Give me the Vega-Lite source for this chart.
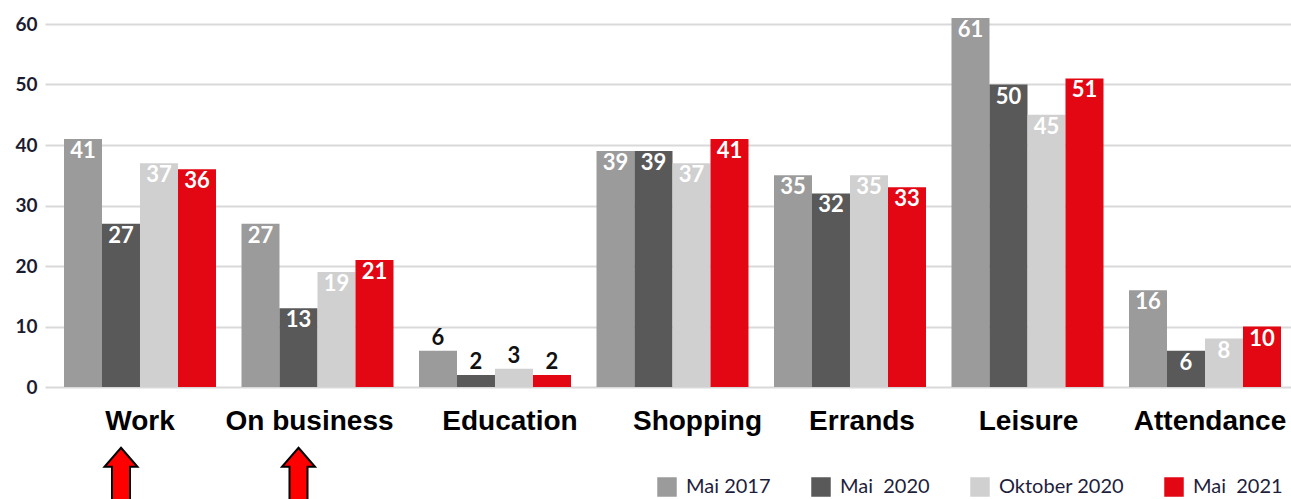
{
  "$schema": "https://vega.github.io/schema/vega-lite/v6.json",
  "width": 1246,
  "height": 363,
  "autosize": {"type": "none"},
  "padding": {"left": 45, "top": 24, "right": 0, "bottom": 112},
  "background": "white",
  "config": {"view": {"stroke": null}},
  "datasets": {
    "trips": [
      {"category": "Work", "period": "Mai 2017", "value": 41},
      {"category": "Work", "period": "Mai 2020", "value": 27},
      {"category": "Work", "period": "Oktober 2020", "value": 37},
      {"category": "Work", "period": "Mai 2021", "value": 36},
      {"category": "On business", "period": "Mai 2017", "value": 27},
      {"category": "On business", "period": "Mai 2020", "value": 13},
      {"category": "On business", "period": "Oktober 2020", "value": 19},
      {"category": "On business", "period": "Mai 2021", "value": 21},
      {"category": "Education", "period": "Mai 2017", "value": 6},
      {"category": "Education", "period": "Mai 2020", "value": 2},
      {"category": "Education", "period": "Oktober 2020", "value": 3},
      {"category": "Education", "period": "Mai 2021", "value": 2},
      {"category": "Shopping", "period": "Mai 2017", "value": 39},
      {"category": "Shopping", "period": "Mai 2020", "value": 39},
      {"category": "Shopping", "period": "Oktober 2020", "value": 37},
      {"category": "Shopping", "period": "Mai 2021", "value": 41},
      {"category": "Errands", "period": "Mai 2017", "value": 35},
      {"category": "Errands", "period": "Mai 2020", "value": 32},
      {"category": "Errands", "period": "Oktober 2020", "value": 35},
      {"category": "Errands", "period": "Mai 2021", "value": 33},
      {"category": "Leisure", "period": "Mai 2017", "value": 61},
      {"category": "Leisure", "period": "Mai 2020", "value": 50},
      {"category": "Leisure", "period": "Oktober 2020", "value": 45},
      {"category": "Leisure", "period": "Mai 2021", "value": 51},
      {"category": "Attendance", "period": "Mai 2017", "value": 16},
      {"category": "Attendance", "period": "Mai 2020", "value": 6},
      {"category": "Attendance", "period": "Oktober 2020", "value": 8},
      {"category": "Attendance", "period": "Mai 2021", "value": 10}
    ],
    "arrows": [
      {"category": "Work", "period": "Mai 2020", "value": -15},
      {"category": "On business", "period": "Mai 2020", "value": -15}
    ]
  },
  "encoding": {
    "x": {
      "field": "category",
      "type": "nominal",
      "sort": ["Work", "On business", "Education", "Shopping", "Errands", "Leisure", "Attendance"],
      "scale": {"paddingInner": 0.1437, "paddingOuter": 0.0817, "align": 0.655},
      "axis": {
        "title": null,
        "domain": false,
        "ticks": false,
        "labelAngle": 0,
        "labelOverlap": false,
        "labelLimit": 0,
        "labelFont": "Liberation Sans",
        "labelFontWeight": "bold",
        "labelFontSize": 28,
        "labelColor": "#000000",
        "labelPadding": 20,
        "labelOffset": {
          "condition": [
            {"test": "datum.value === 'On business'", "value": -8},
            {"test": "datum.value === 'Education'", "value": 15},
            {"test": "datum.value === 'Shopping'", "value": 25},
            {"test": "datum.value === 'Errands'", "value": 12},
            {"test": "datum.value === 'Leisure'", "value": 1},
            {"test": "datum.value === 'Attendance'", "value": 5}
          ],
          "value": 0
        }
      }
    },
    "xOffset": {
      "field": "period",
      "type": "nominal",
      "sort": ["Mai 2017", "Mai 2020", "Oktober 2020", "Mai 2021"],
      "scale": {"paddingInner": 0, "paddingOuter": 0}
    },
    "y": {
      "field": "value",
      "type": "quantitative",
      "scale": {"domain": [0, 60], "nice": false},
      "axis": {
        "title": null,
        "domain": false,
        "ticks": false,
        "values": [0, 10, 20, 30, 40, 50, 60],
        "grid": true,
        "gridColor": "#d9d9d9",
        "gridWidth": 2,
        "labelFont": "Lato",
        "labelFontWeight": "bold",
        "labelFontSize": 19,
        "labelColor": "#1c1c30",
        "labelPadding": 8
      }
    }
  },
  "layer": [
    {
      "data": {"name": "trips"},
      "mark": {"type": "bar"},
      "encoding": {
        "color": {
          "field": "period",
          "type": "nominal",
          "sort": ["Mai 2017", "Mai 2020", "Oktober 2020", "Mai 2021"],
          "scale": {
            "domain": ["Mai 2017", "Mai 2020", "Oktober 2020", "Mai 2021"],
            "range": ["#9b9b9b", "#595959", "#d0d0d0", "#e30613"]
          },
          "legend": {
            "title": null,
            "orient": "none",
            "direction": "horizontal",
            "legendX": 612,
            "legendY": 453,
            "symbolType": "square",
            "symbolSize": 380,
            "symbolStrokeWidth": 0,
            "symbolOpacity": 1,
            "labelFont": "Lato",
            "labelFontSize": 20,
            "labelColor": "#1e1e3c",
            "labelOffset": 9,
            "labelLimit": 0,
            "columnPadding": 40,
            "labelExpr": "replace(datum.label, 'Mai 202', 'Mai\u00a0 202')"
          }
        }
      }
    },
    {
      "data": {"name": "trips"},
      "transform": [{"filter": "datum.category !== 'Education'"}],
      "mark": {"type": "text", "baseline": "top", "dy": 2, "font": "Lato", "fontWeight": "bold", "fontSize": 22, "color": "#ffffff"},
      "encoding": {"text": {"field": "value", "type": "quantitative"}}
    },
    {
      "data": {"name": "trips"},
      "transform": [{"filter": "datum.category === 'Education'"}],
      "mark": {"type": "text", "baseline": "bottom", "dy": -1, "font": "Lato", "fontWeight": "bold", "fontSize": 22, "color": "#111111"},
      "encoding": {"text": {"field": "value", "type": "quantitative"}}
    },
    {
      "data": {"name": "arrows"},
      "mark": {
        "type": "point",
        "filled": true,
        "shape": "M0,-1 L0.55,-0.367 L0.3,-0.367 L0.3,1.3 L-0.3,1.3 L-0.3,-0.367 L-0.55,-0.367 Z",
        "size": 3600,
        "fill": "#ff0000",
        "stroke": "#000000",
        "strokeWidth": 2,
        "opacity": 1
      },
      "encoding": {}
    }
  ]
}
